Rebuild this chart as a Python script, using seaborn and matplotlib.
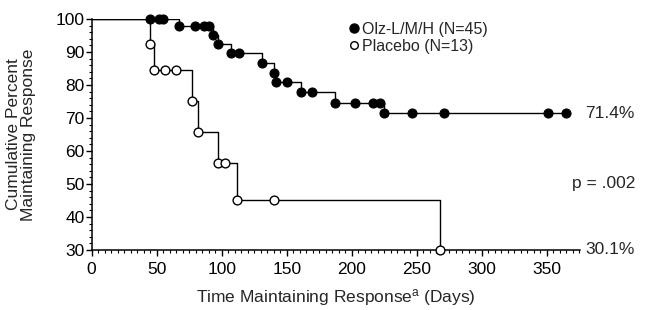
import pandas as pd
import matplotlib
matplotlib.use("Agg")
import matplotlib.pyplot as plt
import seaborn as sns
from matplotlib.lines import Line2D
from matplotlib.ticker import MultipleLocator

# Kaplan-Meier points (day, percent)
olz_days = [44.5, 52, 55, 67.5, 79.5, 86, 90.5, 93, 97.5, 107.5, 113, 131, 140,
            141.5, 150.5, 161, 169.5, 187, 202.5, 216, 222, 225, 246, 271, 351, 365]
olz_pct = [100, 100, 100, 97.8, 97.8, 97.8, 97.8, 95.3, 92.5, 89.8, 89.8, 86.8, 83.8,
           81.0, 81.0, 77.8, 77.8, 74.7, 74.7, 74.7, 74.7, 71.4, 71.4, 71.4, 71.4, 71.4]

pla_days = [45, 48, 56.5, 64.5, 77.5, 81.5, 97, 102.5, 112, 140, 268]
pla_pct = [92.3, 84.6, 84.6, 84.6, 75.2, 65.8, 56.4, 56.4, 45.1, 45.1, 30.1]

labels = ["Olz-L/M/H (N=45)", "Placebo (N=13)"]

sns.set_style("ticks")
plt.rcParams['font.family'] = ['Liberation Sans', 'DejaVu Sans']
plt.rcParams['mathtext.fontset'] = 'custom'
plt.rcParams['mathtext.rm'] = 'Liberation Sans'
plt.rcParams['mathtext.it'] = 'Liberation Sans'

olz = pd.DataFrame({"day": [0] + olz_days, "pct": [100] + olz_pct})
pla = pd.DataFrame({"day": [0] + pla_days, "pct": [100] + pla_pct})

fig = plt.figure(figsize=(6.52, 3.10), dpi=100)
ax = fig.add_axes([0.1406, 0.1935, 0.749, 0.745])

sns.lineplot(data=pla, x="day", y="pct", estimator=None, drawstyle="steps-post",
             color="black", lw=1.0, ax=ax)
sns.lineplot(data=olz, x="day", y="pct", estimator=None, drawstyle="steps-post",
             color="black", lw=1.0, ax=ax)

ax.scatter(olz_days, olz_pct, s=42, color="black", edgecolor="black",
           linewidth=0.8, zorder=3, clip_on=False)
ax.scatter(pla_days, pla_pct, s=40, color="white", edgecolor="black",
           linewidth=1.0, zorder=4, clip_on=False)

fs = 12.5
ax.set_xlim(0, 375.5)
ax.set_ylim(30, 100)
ax.xaxis.set_major_locator(MultipleLocator(50))
ax.xaxis.set_minor_locator(MultipleLocator(5))
ax.yaxis.set_major_locator(MultipleLocator(10))
ax.yaxis.set_minor_locator(MultipleLocator(2))
ax.tick_params(axis="both", which="major", length=4.5, width=1, labelsize=fs,
               color="black", labelcolor="black")
ax.tick_params(axis="x", which="major", pad=4)
ax.tick_params(axis="y", which="major", pad=0.5)
ax.tick_params(axis="both", which="minor", length=2.5, width=0.8, color="black")
sns.despine(ax=ax)
for s in ["left", "bottom"]:
    ax.spines[s].set_linewidth(1.1)
    ax.spines[s].set_color("black")

ax.set_xlabel("Time Maintaining Response$^{\\mathrm{a}}$ (Days)", fontsize=fs, labelpad=7)
ax.set_ylabel("Cumulative Percent\nMaintaining Response", fontsize=fs,
              labelpad=14, linespacing=1.0)

handles = [Line2D([], [], marker="o", ls="", color="black", markersize=6.5),
           Line2D([], [], marker="o", ls="", markerfacecolor="white",
                  markeredgecolor="black", markersize=5.5)]
ax.legend(handles, labels, loc="upper left", bbox_to_anchor=(0.507, 1.015),
          frameon=False, fontsize=11.5, handletextpad=0.0, handlelength=1.0,
          labelspacing=0.1, borderaxespad=0)

ax.text(1.01, 71.4, "71.4%", transform=ax.get_yaxis_transform(), fontsize=fs,
        va="center", ha="left")
ax.text(1.1125, 50.3, "p = .002", transform=ax.get_yaxis_transform(), fontsize=fs,
        va="center", ha="right")
ax.text(1.01, 30.1, "30.1%", transform=ax.get_yaxis_transform(), fontsize=fs,
        va="center", ha="left")

fig.savefig("out.png", dpi=100)
